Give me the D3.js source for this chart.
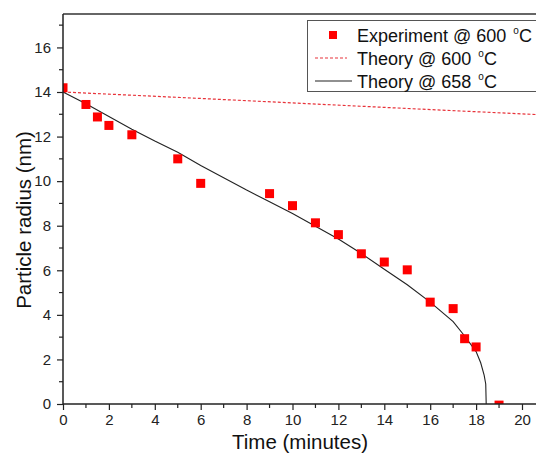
<!DOCTYPE html>
<html>
<head>
<meta charset="utf-8">
<script src="https://cdn.jsdelivr.net/npm/d3@7"></script>
<style>
  body { margin: 0; background: #fff; }
  svg { display: block; font-family: "Liberation Sans", Arial, sans-serif; }
</style>
</head>
<body>
<div id="chart"></div>
<script>
// experiment @ 600 C
const expTime = [0, 1, 1.5, 2, 3, 5, 6, 9, 10, 11, 12, 13, 14, 15, 16, 17, 17.5, 18, 19];
const expRadius = [14.19, 13.44, 12.88, 12.5, 12.08, 11.0, 9.9, 9.44, 8.9, 8.13, 7.6, 6.74, 6.37, 6.02, 4.57, 4.28, 2.93, 2.56, -0.05];

// theory @ 600 C
const th600Time = [0, 5, 10, 15, 21];
const th600Radius = [14.0, 13.76, 13.51, 13.26, 12.97];

// theory @ 658 C
const th658Time = [0, 1, 2, 3, 4, 5, 6, 7, 8, 9, 10, 11, 12, 13, 14, 15, 16, 17, 17.5, 18, 18.2, 18.35, 18.42, 18.44];
const th658Radius = [14.0, 13.47, 12.9, 12.33, 11.8, 11.3, 10.7, 10.15, 9.6, 9.08, 8.55, 7.98, 7.4, 6.75, 6.05, 5.35, 4.57, 3.7, 3.05, 2.35, 1.85, 1.3, 0.9, 0];

const xTicks = [0, 2, 4, 6, 8, 10, 12, 14, 16, 18, 20];
const yTicks = [0, 2, 4, 6, 8, 10, 12, 14, 16];

const width = 536, height = 453;
const margin = {left: 63, top: 14, bottom: 49};

const svg = d3.select('#chart').append('svg')
  .attr('width', width)
  .attr('height', height);

const x = d3.scaleLinear().domain([0, 20]).range([margin.left, 522]);
const y = d3.scaleLinear().domain([0, 17.5]).range([height - margin.bottom, margin.top]);

const xMinor = d3.range(1, 21, 2);
const yMinor = d3.range(1, 18, 2);

// frame (top line; right side is cut off)
svg.append('line')
  .attr('x1', x(0)).attr('x2', width)
  .attr('y1', y(17.5)).attr('y2', y(17.5))
  .attr('stroke', '#333').attr('stroke-width', 1.5);

// plot
svg.append('defs').append('clipPath').attr('id', 'plot')
  .append('rect').attr('x', x(0)).attr('y', y(17.5))
  .attr('width', width - x(0)).attr('height', y(0) - y(17.5));

const line = d3.line().x(d => x(d[0])).y(d => y(d[1]));

svg.append('path')
  .datum(th600Time.map((t, i) => [t, th600Radius[i]]))
  .attr('clip-path', 'url(#plot)')
  .attr('d', line)
  .attr('fill', 'none')
  .attr('stroke', '#e8333a')
  .attr('stroke-width', 1.2)
  .attr('stroke-dasharray', '3,2');

svg.append('path')
  .datum(th658Time.map((t, i) => [t, th658Radius[i]]))
  .attr('d', line)
  .attr('fill', 'none')
  .attr('stroke', '#222')
  .attr('stroke-width', 1.1);

const sz = 9;
svg.append('g').attr('clip-path', 'url(#plot)')
  .selectAll('rect').data(expTime.map((t, i) => [t, expRadius[i]])).enter()
  .append('rect')
  .attr('x', d => x(d[0]) - sz / 2)
  .attr('y', d => y(d[1]) - sz / 2)
  .attr('width', sz).attr('height', sz)
  .attr('fill', '#ff0000');

// x axis
const gx = svg.append('g').attr('transform', `translate(0,${y(0)})`);
gx.call(d3.axisBottom(x).tickValues(xTicks).tickSize(6).tickPadding(4).tickFormat(d3.format('d')));
gx.append('g').selectAll('line').data(xMinor).enter().append('line')
  .attr('x1', d => x(d)).attr('x2', d => x(d))
  .attr('y1', 0).attr('y2', 4)
  .attr('stroke', '#222').attr('stroke-width', 1.2);

// y axis
const gy = svg.append('g').attr('transform', `translate(${x(0)},0)`);
gy.call(d3.axisLeft(y).tickValues(yTicks).tickSize(6).tickPadding(6).tickFormat(d3.format('d')));
gy.append('g').selectAll('line').data(yMinor).enter().append('line')
  .attr('x1', 0).attr('x2', -4)
  .attr('y1', d => y(d)).attr('y2', d => y(d))
  .attr('stroke', '#222').attr('stroke-width', 1.2);

[gx, gy].forEach(g => {
  g.select('.domain').attr('stroke', '#222').attr('stroke-width', 1.5);
  g.selectAll('.tick line').attr('stroke', '#222').attr('stroke-width', 1.2);
  g.selectAll('.tick text').attr('font-size', 15).attr('fill', '#222')
    .attr('font-family', '"Liberation Sans", Arial, sans-serif');
});
gy.select('.domain').attr('d', `M0,${y(0)}V${y(17.5)}`);
gx.select('.domain').attr('d', `M${x(0)},0H${width}`);

// axis titles
svg.append('text')
  .attr('x', 300).attr('y', 449)
  .attr('text-anchor', 'middle')
  .attr('font-size', 20.5).attr('fill', '#111')
  .text('Time (minutes)');

svg.append('text')
  .attr('transform', `translate(31,220) rotate(-90)`)
  .attr('text-anchor', 'middle')
  .attr('font-size', 20.5).attr('fill', '#111')
  .text('Particle radius (nm)');

// legend
const legend = svg.append('g');
legend.append('rect')
  .attr('x', 307.5).attr('y', 20.5)
  .attr('width', 240).attr('height', 71)
  .attr('fill', '#fff').attr('stroke', '#555').attr('stroke-width', 1);

const legendItems = [
  {label: 'Experiment @ 600 ', type: 'square'},
  {label: 'Theory @ 600 ', type: 'dash'},
  {label: 'Theory @ 658 ', type: 'solid'}
];
legendItems.forEach((item, i) => {
  const cy = 35 + i * 23;
  if (item.type === 'square') {
    legend.append('rect').attr('x', 329).attr('y', cy - 4).attr('width', 8).attr('height', 8).attr('fill', '#ff0000');
  } else {
    legend.append('line').attr('x1', 315).attr('x2', item.type === 'dash' ? 347 : 352)
      .attr('y1', cy).attr('y2', cy)
      .attr('stroke', item.type === 'dash' ? '#e8333a' : '#222')
      .attr('stroke-width', 1.1)
      .attr('stroke-dasharray', item.type === 'dash' ? '3,2' : null);
  }
  const t = legend.append('text').attr('x', 357).attr('y', cy + 6.5)
    .attr('font-size', 18).attr('fill', '#111');
  t.append('tspan').text(item.label);
  t.append('tspan').attr('font-size', 10).attr('dx', 2).attr('dy', -8).text('o');
  t.append('tspan').attr('dy', 8).text('C');
});
</script>
</body>
</html>
